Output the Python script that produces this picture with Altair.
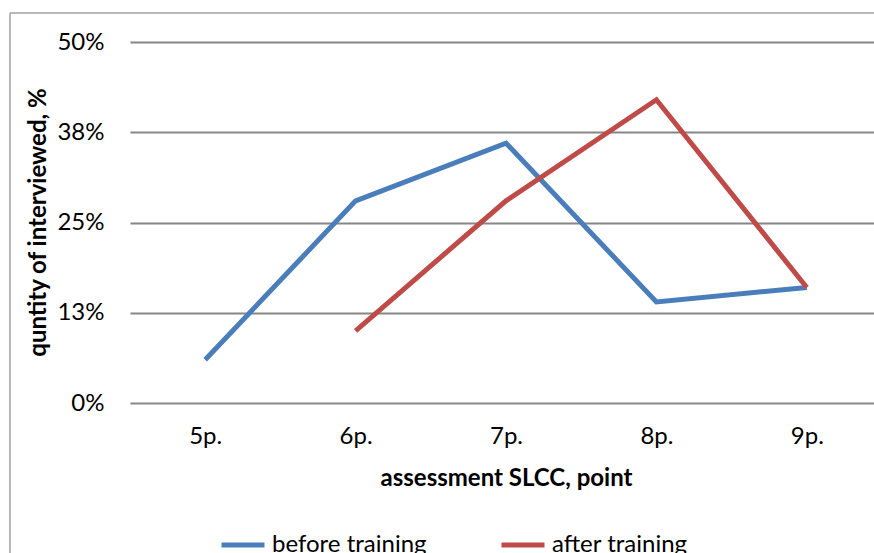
import altair as alt
import pandas as pd

categories = ["5p.", "6p.", "7p.", "8p.", "9p."]
before_training = [0.06, 0.28, 0.36, 0.14, 0.16]
after_training = [None, 0.10, 0.28, 0.42, 0.16]
series_names = ["before training", "after training"]
series_colors = ["#4A7EBB", "#BE4B48"]
y_ticks = [0, 0.125, 0.25, 0.375, 0.5]
y_tick_labels = ["0%", "13%", "25%", "38%", "50%"]

rows = []
for c, b, a in zip(categories, before_training, after_training):
    if b is not None:
        rows.append({"cat": c, "val": b, "series": series_names[0]})
    if a is not None:
        rows.append({"cat": c, "val": a, "series": series_names[1]})
df = pd.DataFrame(rows)

label_expr = "[" + ",".join(f"'{l}'" for l in y_tick_labels) + "][indexof([" + ",".join(str(t) for t in y_ticks) + "], datum.value)]"

FONT = "Lato"
FS = 24
W, H = 744, 361

lines = alt.Chart(df).mark_line(strokeWidth=5).encode(
    x=alt.X("cat:N", sort=categories,
            scale=alt.Scale(type="point", range=[0, 752], padding=0.5),
            axis=alt.Axis(title="assessment SLCC, point", grid=False, domain=False, ticks=False,
                          labelAngle=0, labelPadding=21, labelFontSize=FS, labelColor="#000",
                          labelFont=FONT, titleFont=FONT, titleFontSize=FS, titleFontWeight="bold",
                          titleColor="#000", titleX=376, titleY=82, titleBaseline="alphabetic")),
    y=alt.Y("val:Q", scale=alt.Scale(domain=[0, 0.5], nice=False, zero=True),
            axis=alt.Axis(title="quntity of interviewed, %", values=y_ticks, labelExpr=label_expr,
                          grid=True, gridColor="#868686", gridWidth=2, domain=False, ticks=False,
                          labelPadding=26, labelFontSize=FS, labelColor="#000", labelFont=FONT,
                          titleFont=FONT, titleFontSize=FS, titleFontWeight="bold", titleColor="#000",
                          titleX=-92, titleY=180, titleBaseline="middle")),
    color=alt.Color("series:N", scale=alt.Scale(domain=series_names, range=series_colors),
                    legend=alt.Legend(title=None, orient="none", legendX=89, legendY=479,
                                      direction="horizontal", symbolType="stroke",
                                      symbolStrokeWidth=5, symbolSize=1849, labelOffset=5,
                                      columnPadding=64, labelFontSize=FS, labelFont=FONT,
                                      labelColor="#000", labelLimit=400)),
)

frame_data = alt.Data(values=[{"k": 1}])
left_border = alt.Chart(frame_data).mark_rule(color="#a0a0a0", strokeWidth=1.5).encode(
    x=alt.value(-120), y=alt.value(-29), y2=alt.value(H + 200))
top_border = alt.Chart(frame_data).mark_rule(color="#a0a0a0", strokeWidth=1.5).encode(
    x=alt.value(-120), x2=alt.value(W + 20), y=alt.value(-29))

chart = alt.layer(left_border, top_border, lines).properties(
    width=W, height=H,
    autosize=alt.AutoSizeParams(type="none"),
    padding={"left": 130, "top": 42, "right": 0, "bottom": 150},
    background="white",
).configure_view(stroke=None)

chart.save("out.html", embed_options={"renderer": "svg", "actions": False})
